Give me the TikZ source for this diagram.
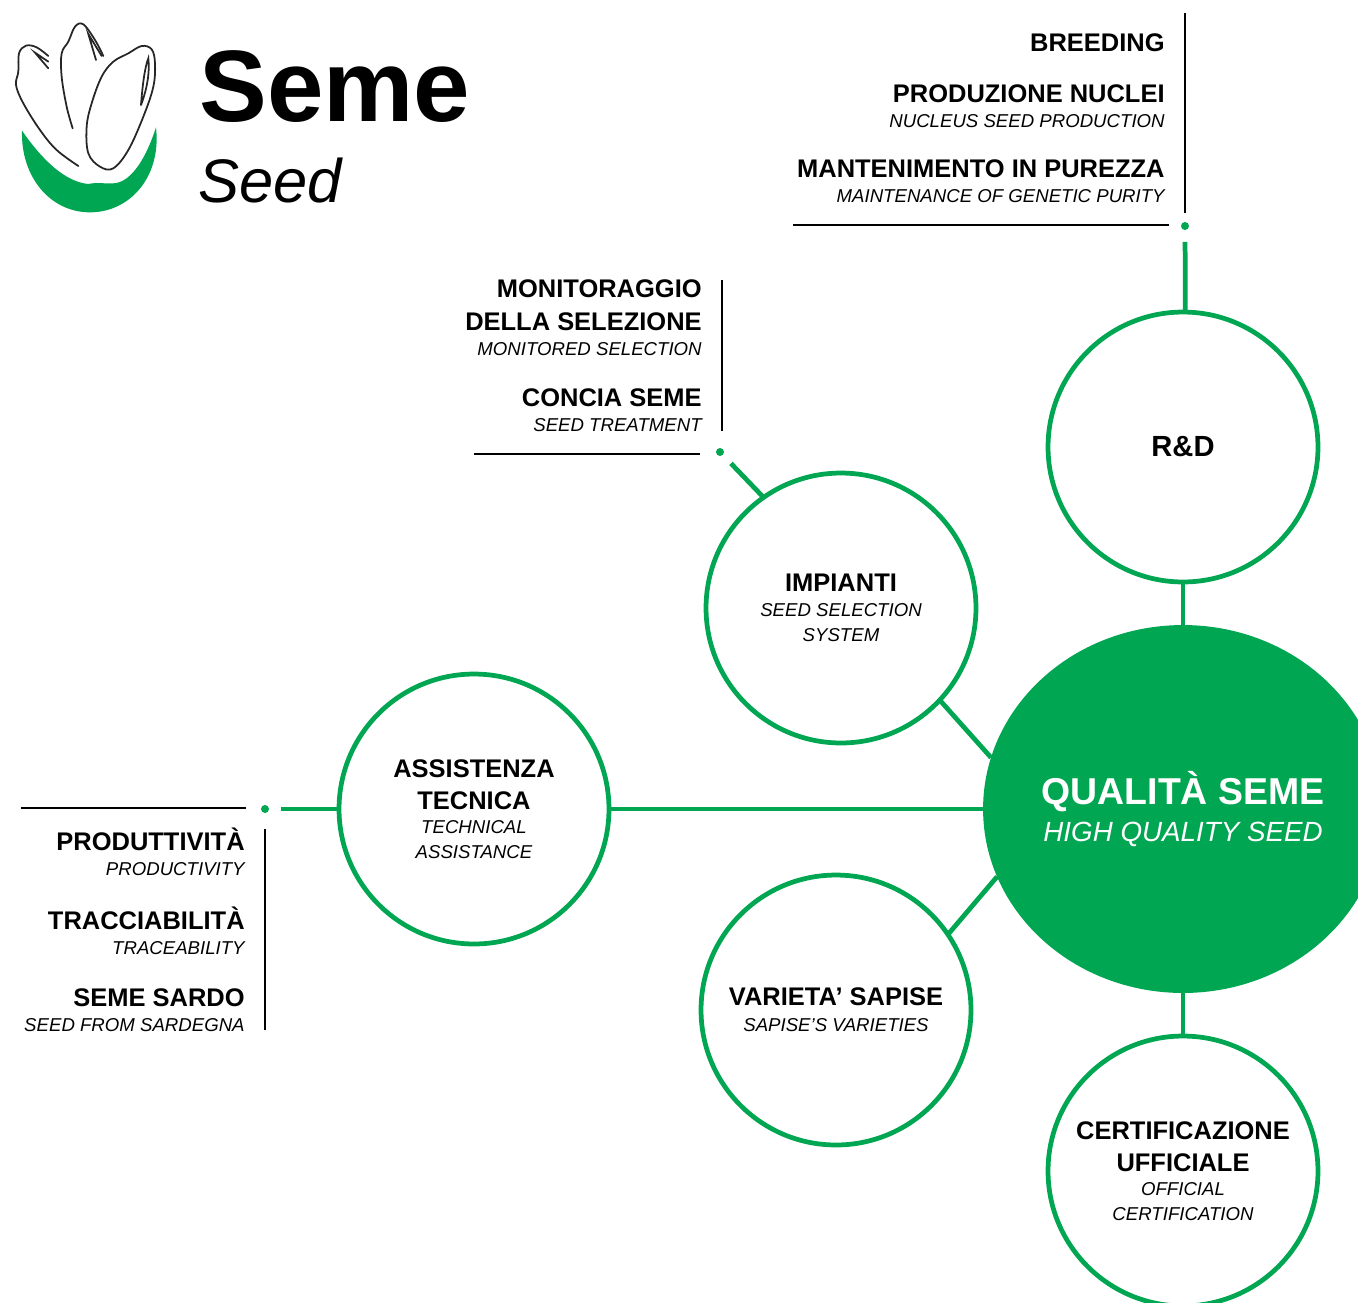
\documentclass[tikz,border=0pt]{standalone}
\usepackage{fontspec}
\setmainfont{Liberation Sans}
\usetikzlibrary{shapes.geometric}
\definecolor{semegreen}{HTML}{00A651}
\def\hdfont{\fontsize{14.5}{18.1}\selectfont\bfseries}
\def\itfont{\fontsize{10.6}{14.2}\selectfont\mdseries\itshape}
\def\sublab#1{{\itfont #1}}
\tikzset{
  x=0.02cm, y=-0.02cm,
  ring/.style={circle,draw=semegreen,line width=2.7pt,minimum size=5.4cm,inner sep=0pt,outer sep=0pt,
    align=center,font=\hdfont},
  hub/.style={ellipse,fill=semegreen,minimum width=7.88cm,minimum height=7.36cm,inner sep=0pt,outer sep=0pt,
    align=center,text=white,font=\fontsize{10}{21.5}\selectfont},
  link/.style={semegreen,line width=2.7pt},
  gaplink/.style={link,shorten >=6.5pt},
  tipdot/.style={circle,fill=semegreen,minimum size=0.16cm,inner sep=0pt},
  rule/.style={black,line width=1.3pt},
  seedline/.style={black!85,line width=1pt,line cap=round},
  hdlab/.style={anchor=base east,inner sep=0pt,font=\hdfont},
  itlab/.style={anchor=base east,inner sep=0pt,font=\itfont}
}
\begin{document}
\begin{tikzpicture}
 \clip (0,0) rectangle (1358,1302);
 % logo
 \begin{scope}[shift={(0,10)},scale=1/3]
  \fill[semegreen] (66,362) .. controls (62,500) and (150,607) .. (270,607)
     .. controls (390,607) and (485,500) .. (468,352)
     .. controls (440,440) and (395,518) .. (340,520)
     .. controls (320,522) and (290,516) .. (265,522)
     .. controls (190,515) and (120,440) .. (66,362) -- cycle;
  \draw[seedline] plot[smooth,tension=0.6] coordinates {(145,138) (110,112) (78,107) (57,130) (55,185) (48,225) (70,280) (120,360) (170,420) (235,468)};
  \draw[seedline] (145,155) -- (105,128) -- (145,175);
  \draw[seedline] plot[smooth,tension=0.6] coordinates {(310,138) (285,90) (250,43) (225,50) (205,95) (185,130) (185,200) (200,290) (218,355)};
  \draw[seedline] (288,150) -- (265,72) -- (305,138);
  \draw[seedline] plot[smooth cycle,tension=0.6] coordinates {(340,155) (385,130) (425,108) (455,118) (465,160) (460,230) (430,320) (385,420) (340,475) (300,470) (265,430) (260,350) (275,280) (305,200)};
  \draw[seedline] (423,285) .. controls (428,220) and (435,170) .. (445,145) .. controls (450,190) and (440,240) .. (423,285);
 \end{scope}
 \node[anchor=base west,inner sep=0pt,font=\fontsize{57.8}{60}\selectfont\bfseries] (seme) at (199,121) {Seme};
 \node[anchor=base west,inner sep=0pt,font=\fontsize{35}{40}\selectfont\itshape] (seed) at (198,202) {Seed};
 % circles
 \node[hub] (qual) at (1183,809) {{\fontsize{21.3}{24}\selectfont\bfseries QUALITÀ SEME}\\{\fontsize{15.8}{18}\selectfont\itshape HIGH QUALITY SEED}};
 \node[ring,font=\fontsize{16.6}{20}\selectfont\bfseries] (rd) at (1183,447) {R\&D};
 \node[ring] (imp) at (841,608) {IMPIANTI\\[-3.7pt]\sublab{SEED SELECTION}\\[-3.7pt]\sublab{SYSTEM}};
 \node[ring] (ass) at (474,809) {ASSISTENZA\\TECNICA\\[-4.2pt]\sublab{TECHNICAL}\\[-4.2pt]\sublab{ASSISTANCE}};
 \node[ring] (var) at (836,1010) {VARIETA’ SAPISE\\[-3.5pt]\sublab{SAPISE’S VARIETIES}};
 \node[ring] (cert) at (1183,1171) {CERTIFICAZIONE\\UFFICIALE\\[-4.2pt]\sublab{OFFICIAL}\\[-4.2pt]\sublab{CERTIFICATION}};
 % links to the hub
 \draw[link] (qual.north) -- (rd.south);
 \draw[link] (qual.south) -- (cert.north);
 \draw[link] (qual.west) -- (ass.east);
 \draw[link] (qual.165.5) -- (imp.-43.5);
 \draw[link] (qual.200.7) -- (var.34.4);
 % tips
 \node[tipdot] (rddot) at (1185,226) {};
 \node[tipdot] (impdot) at (720,452) {};
 \node[tipdot] (assdot) at (265,809) {};
 \draw[gaplink] (rd.89.5) -- (rddot);
 \draw[gaplink] (imp.125.7) -- (impdot);
 \draw[gaplink] (ass.west) -- (assdot);
 % rules
 \foreach \na/\xa/\ya/\nb/\xb/\yb in {rdv/1185/13/rdw/1185/213, rdh/793/225/rdk/1169/225,
    impv/722/280/impw/722/431, imph/474/454/impk/700/454,
    assh/21/808/assk/246/808, assv/265/829/assw/265/1030}
 {
   \coordinate (\na) at (\xa,\ya);
   \coordinate (\nb) at (\xb,\yb);
   \draw[rule] (\na) -- (\nb);
 }
 % lists
 \foreach \x/\y/\sty/\txt [count=\i] in {
    1165/51/hdlab/BREEDING, 1165/102/hdlab/PRODUZIONE NUCLEI, 1165/127/itlab/NUCLEUS SEED PRODUCTION,
    1165/177/hdlab/MANTENIMENTO IN PUREZZA, 1165/202/itlab/MAINTENANCE OF GENETIC PURITY,
    702/297/hdlab/MONITORAGGIO, 702/330/hdlab/DELLA SELEZIONE, 702/355/itlab/MONITORED SELECTION,
    702/406/hdlab/CONCIA SEME, 702/431/itlab/SEED TREATMENT,
    245/850/hdlab/PRODUTTIVITÀ, 245/875/itlab/PRODUCTIVITY,
    245/929/hdlab/TRACCIABILITÀ, 245/954/itlab/TRACEABILITY,
    245/1006/hdlab/SEME SARDO, 245/1031/itlab/SEED FROM SARDEGNA}
 {
   \node[\sty] (lab\i) at (\x,\y) {\txt};
 }
\end{tikzpicture}
\end{document}
